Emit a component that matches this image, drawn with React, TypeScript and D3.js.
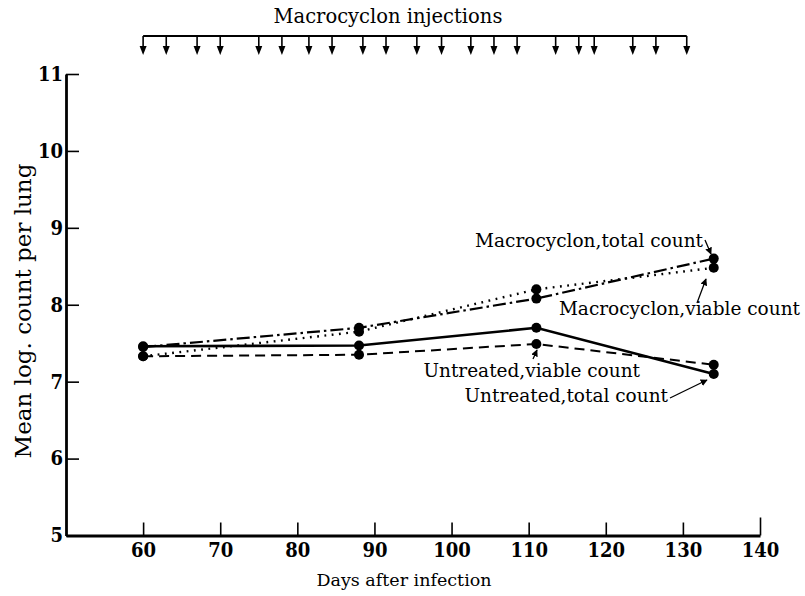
import * as d3 from "d3";
import { useEffect, useRef } from "react";

// days of sampling and mean log counts
const days = [60, 88, 111, 134];
const macroTotal = [7.45, 7.7, 8.08, 8.6];
const macroViable = [7.33, 7.65, 8.2, 8.48];
const untreatedTotal = [7.46, 7.47, 7.7, 7.1];
const untreatedViable = [7.33, 7.35, 7.49, 7.22];

const injectionDays = [
  60, 63, 67, 70, 75, 78, 81.5, 84.5, 88.5, 91.5, 95.5, 98.7, 102.5, 105.5, 108.5, 113.5, 116.5, 118.5,
  123.5, 126.5, 130.5,
];

const xTicks = [60, 70, 80, 90, 100, 110, 120, 130, 140];
const yTicks = [5, 6, 7, 8, 9, 10, 11];

const SERIF = "'DejaVu Serif', serif";

export default function App() {
  const svgRef = useRef<SVGSVGElement>(null);
  const width = 805;
  const height = 596;

  useEffect(() => {
    const svg = d3.select(svgRef.current);
    svg.selectAll("*").remove();

    const x = d3.scaleLinear().domain([50, 140]).range([66, 760]);
    const y = d3.scaleLinear().domain([5, 11]).range([535.5, 74]);

    const defs = svg.append("defs");
    defs
      .append("marker")
      .attr("id", "head")
      .attr("viewBox", "0 0 10 10")
      .attr("refX", 9)
      .attr("refY", 5)
      .attr("markerWidth", 7)
      .attr("markerHeight", 7)
      .attr("markerUnits", "userSpaceOnUse")
      .attr("orient", "auto")
      .append("path")
      .attr("d", "M0,0L10,5L0,10z")
      .attr("fill", "#000");

    // injections bar
    const inj = svg.append("g");
    inj
      .append("text")
      .attr("x", 388)
      .attr("y", 23)
      .attr("text-anchor", "middle")
      .attr("font-family", SERIF)
      .attr("font-size", 19.5)
      .text("Macrocyclon injections");
    inj
      .append("line")
      .attr("x1", x(injectionDays[0]))
      .attr("x2", x(injectionDays[injectionDays.length - 1]))
      .attr("y1", 36)
      .attr("y2", 36)
      .attr("stroke", "#000")
      .attr("stroke-width", 2);
    const arrows = inj.selectAll("g.arr").data(injectionDays).enter().append("g").attr("class", "arr");
    arrows
      .append("line")
      .attr("x1", (d) => x(d))
      .attr("x2", (d) => x(d))
      .attr("y1", 36)
      .attr("y2", 48)
      .attr("stroke", "#000")
      .attr("stroke-width", 1.6);
    arrows
      .append("path")
      .attr("d", (d) => `M${x(d) - 3.5},46L${x(d) + 3.5},46L${x(d)},55z`)
      .attr("fill", "#000");

    // axes
    const gx = svg
      .append("g")
      .attr("transform", `translate(0,${y(5)})`)
      .call(d3.axisBottom(x).tickValues(xTicks).tickFormat(d3.format("d")).tickSizeInner(-13).tickSizeOuter(0).tickPadding(7));
    gx.select(".domain").attr("stroke-width", 2.8);
    gx.selectAll(".tick line").attr("stroke-width", 1.6);
    gx.selectAll<SVGLineElement, number>(".tick line").filter((d) => d === 140).attr("y2", -18);
    gx.selectAll("text")
      .attr("font-family", SERIF)
      .attr("font-weight", "bold")
      .attr("font-stretch", "condensed")
      .attr("font-size", 20)
      .attr("fill", "#000");

    const gy = svg
      .append("g")
      .attr("transform", `translate(${x(50)},0)`)
      .call(d3.axisLeft(y).tickValues(yTicks).tickFormat(d3.format("d")).tickSizeInner(-13).tickSizeOuter(0).tickPadding(3));
    gy.select(".domain").attr("stroke-width", 2.8);
    gy.selectAll(".tick line").attr("stroke-width", 1.6);
    gy.selectAll("text")
      .attr("font-family", SERIF)
      .attr("font-weight", "bold")
      .attr("font-stretch", "condensed")
      .attr("font-size", 20)
      .attr("fill", "#000");
    svg.selectAll(".domain, .tick line").attr("stroke", "#000");

    svg
      .append("text")
      .attr("transform", `translate(31,311) rotate(-90)`)
      .attr("text-anchor", "middle")
      .attr("font-family", SERIF)
      .attr("font-size", 23)
      .text("Mean log. count per lung");

    svg
      .append("text")
      .attr("x", 404)
      .attr("y", 586)
      .attr("text-anchor", "middle")
      .attr("font-family", SERIF)
      .attr("font-size", 17.5)
      .text("Days after infection");

    // series
    const series = [
      { name: "macroTotal", values: macroTotal, dash: "13,4,2.5,4", w: 2.2 },
      { name: "macroViable", values: macroViable, dash: "1.8,5.5", w: 2.4 },
      { name: "untreatedTotal", values: untreatedTotal, dash: null, w: 2.6 },
      { name: "untreatedViable", values: untreatedViable, dash: "10,6", w: 2 },
    ];
    const line = d3
      .line<number>()
      .x((_, i) => x(days[i]))
      .y((d) => y(d));

    const gs = svg.selectAll("g.series").data(series).enter().append("g").attr("class", "series");
    gs.append("path")
      .attr("d", (s) => line(s.values))
      .attr("fill", "none")
      .attr("stroke", "#000")
      .attr("stroke-width", (s) => s.w)
      .attr("stroke-dasharray", (s) => s.dash);
    gs.selectAll("circle")
      .data((s) => s.values)
      .enter()
      .append("circle")
      .attr("cx", (_, i) => x(days[i]))
      .attr("cy", (d) => y(d))
      .attr("r", 5)
      .attr("fill", "#000");

    // labels with pointers
    const notes = [
      { text: "Macrocyclon,total count", x: 703, y: 247, from: [705, 240], to: [711, 254] },
      { text: "Macrocyclon,viable count", x: 800, y: 315, from: [697, 303], to: [706, 279] },
      { text: "Untreated,viable count", x: 640, y: 377, from: [533, 359], to: [537, 350] },
      { text: "Untreated,total count", x: 668, y: 402, from: [670, 398], to: [707, 380] },
    ];
    const gn = svg.selectAll("g.note").data(notes).enter().append("g").attr("class", "note");
    gn.append("text")
      .attr("x", (d) => d.x)
      .attr("y", (d) => d.y)
      .attr("text-anchor", "end")
      .attr("font-family", SERIF)
      .attr("font-size", 18.5)
      .text((d) => d.text);
    gn.append("line")
      .attr("x1", (d) => d.from[0])
      .attr("y1", (d) => d.from[1])
      .attr("x2", (d) => d.to[0])
      .attr("y2", (d) => d.to[1])
      .attr("stroke", "#000")
      .attr("stroke-width", 1.3)
      .attr("marker-end", "url(#head)");
  }, []);

  return (
    <svg
      ref={svgRef}
      width={width}
      height={height}
      style={{ position: "absolute", left: 0, top: 0, background: "#fff" }}
    />
  );
}
